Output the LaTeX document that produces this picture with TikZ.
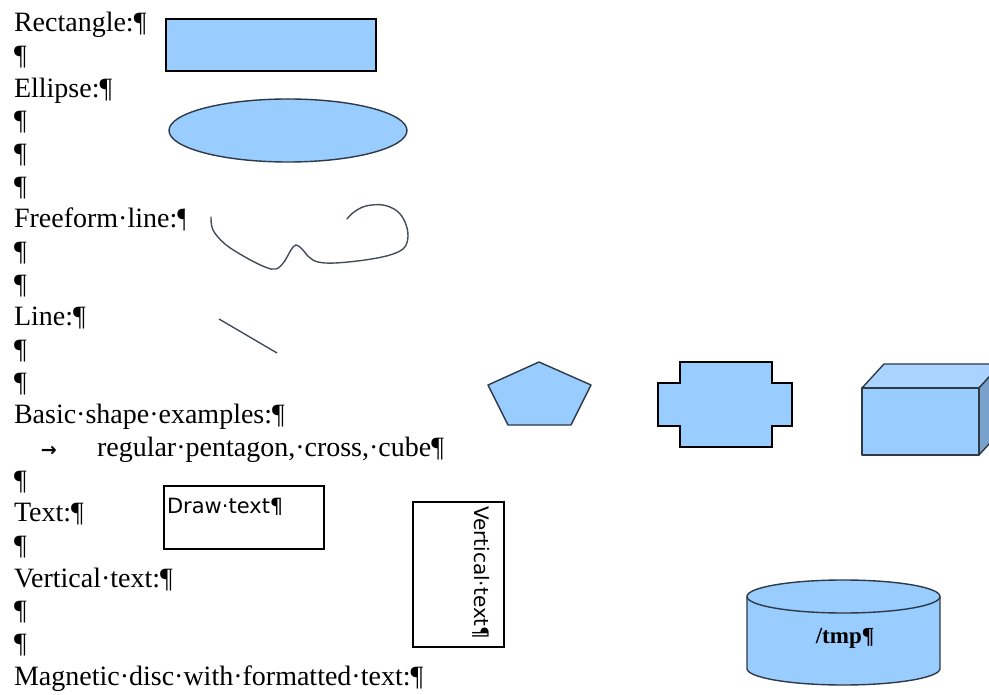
\documentclass[tikz,border=0pt]{standalone}
\usepackage{fontspec}
\setmainfont{Liberation Serif}
\newfontfamily\dv{DejaVu Sans}
\usetikzlibrary{shapes.geometric}
\definecolor{shapefill}{HTML}{99CCFF}
\definecolor{cubetop}{HTML}{AAD4FF}
\definecolor{cubeside}{HTML}{78A2CC}
\definecolor{edge}{HTML}{2E3A46}
\begin{document}
\begin{tikzpicture}[x=1pt,y=-1pt,
  body/.style={anchor=base west, inner sep=0pt, outer sep=0pt, font=\fontsize{28}{33}\selectfont},
  shapebox/.style={fill=shapefill, draw=black, line width=1.4pt, line join=miter},
  softbox/.style={fill=shapefill, draw=edge, line width=1.4pt, line join=round},
  framebox/.style={draw=black, line width=1.2pt},
  sanstext/.style={inner sep=0pt, outer sep=0pt, font=\dv\fontsize{21}{24}\selectfont}]
\useasboundingbox (0,0) rectangle (989,695);
\fill[white] (0,0) rectangle (989,695);
% left column text
\node[body] (l0) at (14,32) {Rectangle:¶};
\node[body] (l1) at (14,64.65) {¶};
\node[body] (l2) at (14,97.3) {Ellipse:¶};
\node[body] (l3) at (14,129.95) {¶};
\node[body] (l4) at (14,162.6) {¶};
\node[body] (l5) at (14,195.25) {¶};
\begin{scope}
  \clip (0,200) rectangle (184,240);
  \node[body] (l6) at (14,227.9) {Freeform·line:¶};
\end{scope}
\node[body] (l7) at (14,260.55) {¶};
\node[body] (l8) at (14,293.2) {¶};
\node[body] (l9) at (14,325.85) {Line:¶};
\node[body] (l10) at (14,358.5) {¶};
\node[body] (l11) at (14,391.15) {¶};
\node[body] (l12) at (14,423.8) {Basic·shape·examples:¶};
\node[body, font=\dv\bfseries\fontsize{19}{24}\selectfont] (tab) at (41,456.45) {→};
\node[body] (l13) at (97,456.45) {regular·pentagon,·cross,·cube¶};
\node[body] (l14) at (14,489.1) {¶};
\node[body] (l15) at (14,521.75) {Text:¶};
\node[body] (l16) at (14,554.4) {¶};
\node[body] (l17) at (14,587.05) {Vertical·text:¶};
\node[body] (l18) at (14,619.7) {¶};
\node[body] (l19) at (14,652.35) {¶};
\node[body] (l20) at (14,685) {Magnetic·disc·with·formatted·text:¶};
% rectangle
\draw[shapebox] (166,19) rectangle (376,71);
% ellipse
\draw[softbox] (288,130.5) ellipse [x radius=119, y radius=31.5];
% freeform line
\draw[line width=1.4pt, draw=edge!90!white, line cap=round] plot[smooth, tension=0.6] coordinates {
  (211,217) (213,230) (225,244) (245,257) (265,267) (276,269) (284,262) (291,250)
  (296,245) (302,249) (309,257) (318,262) (335,263) (365,260) (390,255) (404,248)
  (408,236) (405,222) (397,211) (383,205) (366,206) (354,212) (347,219)};
% line
\coordinate (la) at (219,319);
\coordinate (lb) at (277,353);
\draw[line width=1.4pt, draw=edge!90!white] (la) -- (lb);
% pentagon
\draw[softbox] (539,362) -- (591,385) -- (571,425) -- (508,425) -- (488,385) -- cycle;
% cross
\draw[shapebox] (680,362) -- (772,362) -- (772,383) -- (792,383) -- (792,426) -- (772,426)
  -- (772,447) -- (680,447) -- (680,426) -- (658,426) -- (658,383) -- (680,383) -- cycle;
% cube
\draw[softbox, fill=cubetop] (862,388) -- (884,364) -- (1001,364) -- (979,388) -- cycle;
\draw[softbox, fill=cubeside] (979,388) -- (1001,364) -- (1001,431) -- (979,455) -- cycle;
\draw[softbox] (862,388) rectangle (979,455);
% text frame
\draw[framebox] (164,486) rectangle (324,549);
\node[sanstext, anchor=base west] (dt) at (167,513) {Draw·text¶};
% vertical text frame
\draw[framebox] (413,502) rectangle (504,647);
\node[sanstext, font=\dv\fontsize{20}{24}\selectfont, rotate=-90, anchor=base west] (vt) at (474,506) {Vertical·text¶};
% disc
\fill[shapefill] (747,596.5) -- (747,668.5)
  .. controls (747,677.6) and (790.2,685) .. (843.5,685)
  .. controls (896.8,685) and (940,677.6) .. (940,668.5) -- (940,596.5) -- cycle;
\draw[line width=1.4pt, draw=edge] (747,596.5) -- (747,668.5)
  .. controls (747,677.6) and (790.2,685) .. (843.5,685)
  .. controls (896.8,685) and (940,677.6) .. (940,668.5) -- (940,596.5);
\draw[softbox] (843.5,596.5) ellipse [x radius=96.5, y radius=16.5];
\node[inner sep=0pt, anchor=base, font=\bfseries\fontsize{23}{26}\selectfont] (tmp) at (845,643) {/tmp¶};
\end{tikzpicture}
\end{document}
